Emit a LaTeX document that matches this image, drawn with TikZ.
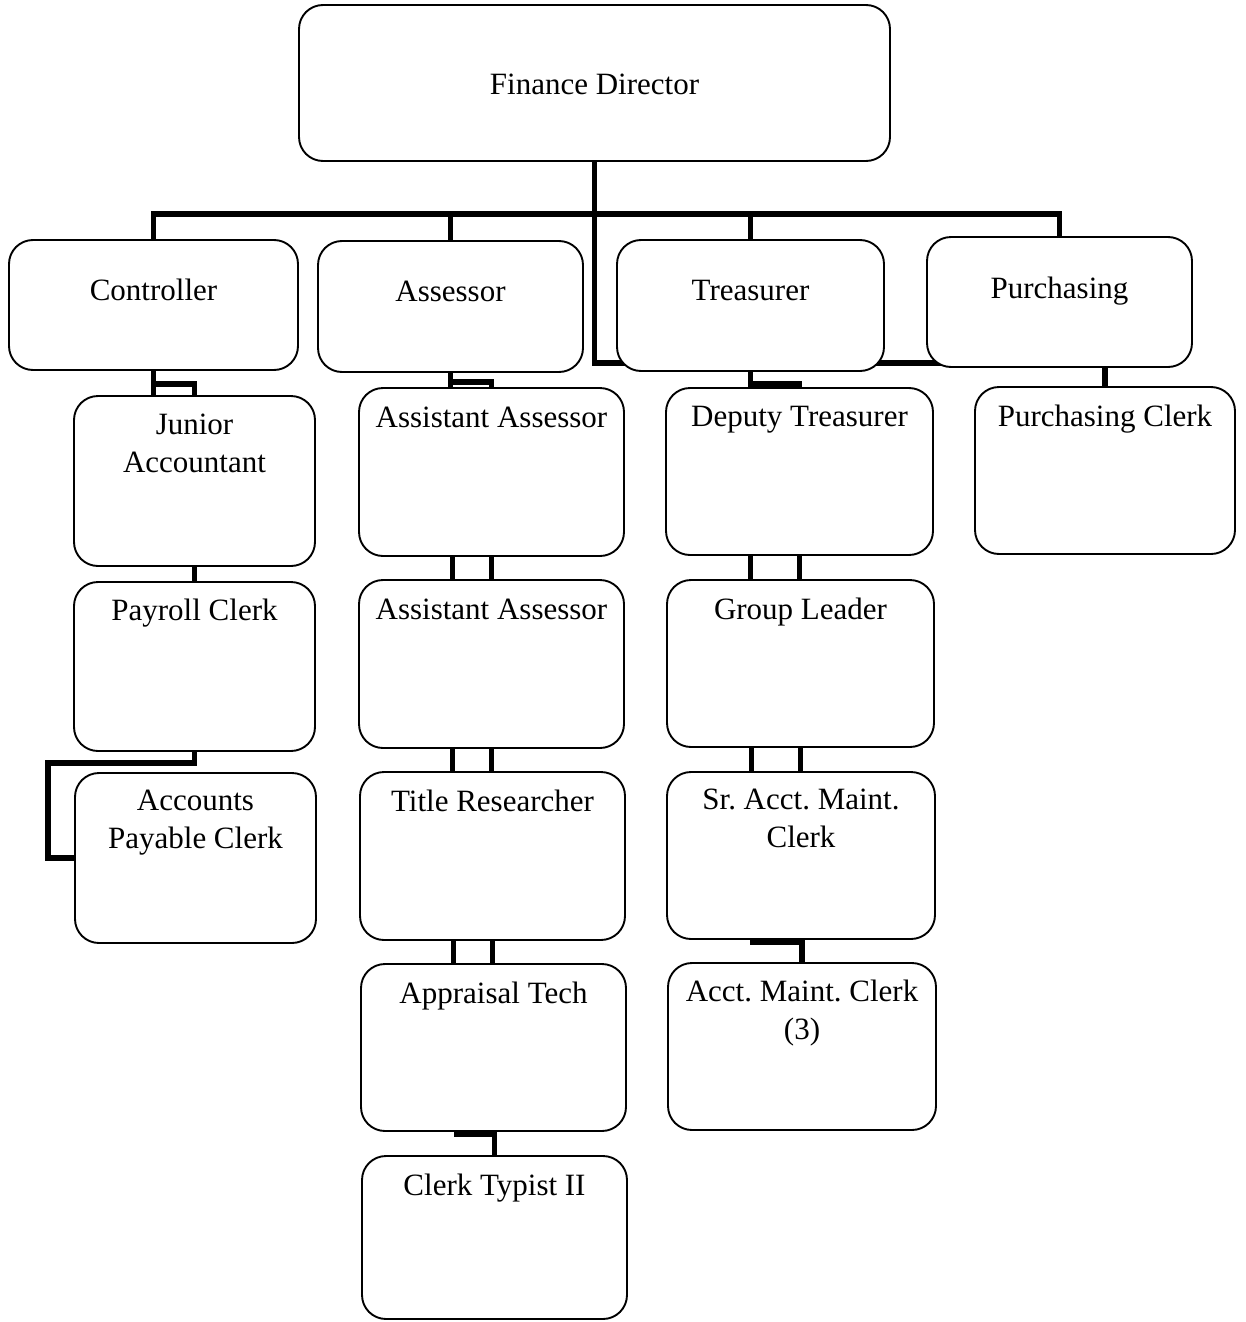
\documentclass[tikz,border=0pt]{standalone}
\usepackage{fontspec}
\setmainfont{Liberation Serif}
\usetikzlibrary{backgrounds,calc}
\frenchspacing
\begin{document}
\begin{tikzpicture}[x=1pt,y=-1pt,
  box/.style={draw=black, line width=1.9pt, rounded corners=24pt, fill=white, inner sep=0pt},
  bx/.style 2 args={box, minimum width=#1pt, minimum height=#2pt},
  lbl/.style={anchor=north, inner sep=0pt, align=center, font=\fontsize{31}{37.5}\selectfont},
  conn/.style={draw=black, line width=5.5pt, line join=miter}]
\useasboundingbox (0,0) rectangle (1245,1322);

% top level
\node[bx={591}{156}] (fd) at (594.5,83) {};
\node[lbl] (tfd) at (594.5,74) {Finance Director};

% department heads
\node[bx={289}{130}] (ctrl)  at (153.5,305)  {};
\node[bx={265}{131}] (ass)   at (450.5,306.5) {};
\node[bx={267}{131}] (treas) at (750.5,305.5) {};
\node[bx={265}{130}] (purch) at (1059.5,302) {};
\node[lbl] (tctrl)  at (153.5,279) {Controller};
\node[lbl] (tass)   at (450.5,281) {Assessor};
\node[lbl] (ttreas) at (750.5,280) {Treasurer};
\node[lbl] (tpurch) at (1059.5,277) {Purchasing};

% controller column
\node[bx={241}{170}] (ja) at (194.5,481)   {};
\node[bx={241}{169}] (pc) at (194.5,666.5) {};
\node[bx={241}{170}] (ap) at (195.5,858)   {};
\node[lbl] (tja) at (194.5,414) {Junior\\Accountant};
\node[lbl] (tpc) at (194.5,599) {Payroll Clerk};
\node[lbl] (tap) at (195.5,790) {Accounts\\Payable Clerk};

% assessor column
\node[bx={265}{168}] (aa1) at (491.5,472)    {};
\node[bx={265}{168}] (aa2) at (491.5,664)    {};
\node[bx={265}{168}] (tr)  at (492.5,856)    {};
\node[bx={265}{167}] (at)  at (493.5,1047.5) {};
\node[bx={265}{163}] (ct)  at (494.5,1237.5) {};
\node[lbl] (taa1) at (491.5,407)  {Assistant Assessor};
\node[lbl] (taa2) at (491.5,599)  {Assistant Assessor};
\node[lbl] (ttr)  at (492.5,790)  {Title Researcher};
\node[lbl] (tat)  at (493.5,982)  {Appraisal Tech};
\node[lbl] (tct)  at (494.5,1174) {Clerk Typist II};

% treasurer column
\node[bx={267}{167}] (dt) at (799.5,471.5)  {};
\node[bx={267}{167}] (gl) at (800.5,663.5)  {};
\node[bx={268}{167}] (sr) at (801,855.5)    {};
\node[bx={268}{167}] (am) at (802,1046.5)   {};
\node[lbl] (tdt) at (799.5,406) {Deputy Treasurer};
\node[lbl] (tgl) at (800.5,598) {Group Leader};
\node[lbl] (tsr) at (801,789)   {Sr. Acct. Maint.\\Clerk};
\node[lbl] (tam) at (802,980)   {Acct. Maint. Clerk\\(3)};

% purchasing column
\node[bx={260}{167}] (pcl) at (1105,470.5) {};
\node[lbl] (tpcl) at (1105,405) {Purchasing Clerk};

\begin{pgfonlayer}{background}
  % director to department heads
  \coordinate (bar) at (594.5,214);
  \draw[conn] (fd.south) -- (bar);
  \draw[conn] (ctrl.north) |- (bar);
  \draw[conn] (purch.north) |- (bar);
  \draw[conn] (ass.north) -- (ass.north |- bar);
  \draw[conn] (treas.north) -- (treas.north |- bar);
  \draw[conn] (fd.south) |- ([yshift=5pt]purch.south);

  % controller chain
  \draw[conn] (ctrl.south) -- (ctrl.south |- ja.north);
  \draw[conn] ([yshift=-13pt]ctrl.south) -| (ja.north);
  \draw[conn] (ja.south) -- (pc.north);
  \draw[conn] (pc.south) -- ([yshift=-11pt]pc.south) -| ([xshift=-26pt]ap.west) -- (ap.west);

  % assessor chain
  \draw[conn] (ass.south) -- (ass.south |- aa1.north);
  \draw[conn] ([yshift=-9pt]ass.south) -| (aa1.north);
  \foreach \p/\c in {aa1/aa2, aa2/tr, tr/at}{
    \draw[conn] (\p.south) -- (\p.south |- \c.north);
    \draw[conn] ([xshift=-39pt]\p.south) -- ([xshift=-39pt]\p.south |- \c.north);
  }
  \coordinate (k1) at (at.south -| ct.north);
  \draw[conn] ([xshift=-41pt,yshift=-2pt]k1) -- ([yshift=-2pt]k1) -- (ct.north);

  % treasurer chain
  \draw[conn] (treas.south) -- (treas.south |- dt.north);
  \draw[conn] ([yshift=-12pt]treas.south) -| (dt.north);
  \foreach \p/\c in {dt/gl, gl/sr}{
    \draw[conn] (\p.south) -- (\p.south |- \c.north);
    \draw[conn] ([xshift=-49pt]\p.south) -- ([xshift=-49pt]\p.south |- \c.north);
  }
  \coordinate (k2) at (sr.south -| am.north);
  \draw[conn] ([xshift=-52pt,yshift=-2pt]k2) -- ([yshift=-2pt]k2) -- (am.north);

  % purchasing chain
  \draw[conn] (pcl.north |- purch.south) -- (pcl.north);
\end{pgfonlayer}
\end{tikzpicture}
\end{document}
